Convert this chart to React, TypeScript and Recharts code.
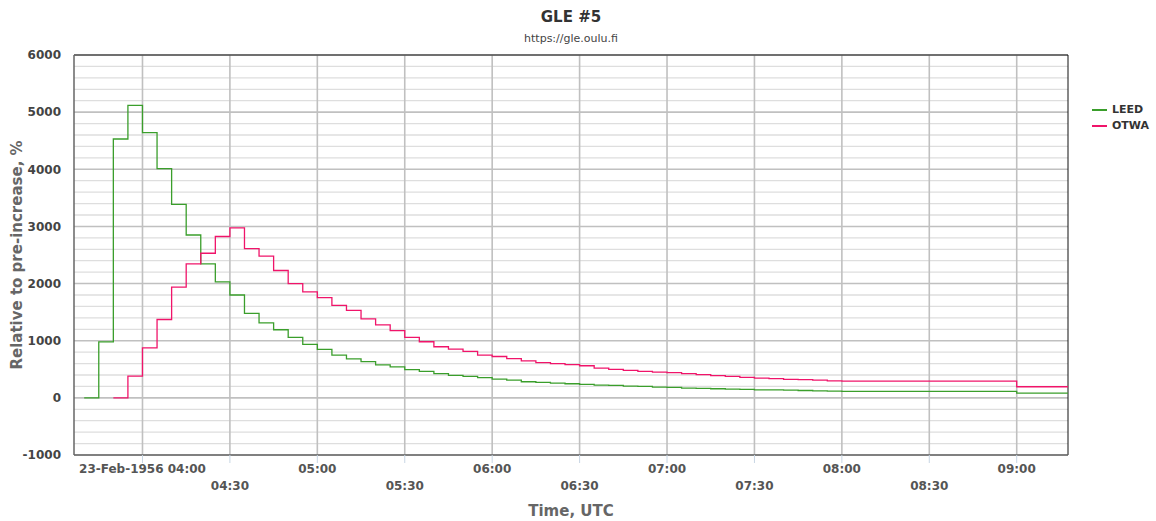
import React from 'react';
import { LineChart, Line, XAxis, YAxis, CartesianGrid, ReferenceLine } from 'recharts';

// 5-minute samples until 08:00, hourly after that
const times = [
  '03:40', '03:45', '03:50', '03:55',
  '04:00', '04:05', '04:10', '04:15', '04:20', '04:25', '04:30', '04:35', '04:40', '04:45', '04:50', '04:55',
  '05:00', '05:05', '05:10', '05:15', '05:20', '05:25', '05:30', '05:35', '05:40', '05:45', '05:50', '05:55',
  '06:00', '06:05', '06:10', '06:15', '06:20', '06:25', '06:30', '06:35', '06:40', '06:45', '06:50', '06:55',
  '07:00', '07:05', '07:10', '07:15', '07:20', '07:25', '07:30', '07:35', '07:40', '07:45', '07:50', '07:55',
  '08:00', '09:00', '10:00',
];

const leedValues = [
  0, 980, 4530, 5120,
  4640, 4010, 3385, 2850, 2345, 2030, 1800, 1478, 1312, 1192, 1058, 935,
  847, 747, 682, 635, 576, 541, 494, 465, 424, 394, 376, 353,
  329, 309, 282, 271, 259, 247, 235, 224, 218, 206, 200, 188,
  182, 171, 165, 159, 153, 147, 141, 138, 135, 129, 122, 118,
  115, 82, 82,
];

const otwaValues = [
  null, null, 0, 381,
  873, 1371, 1939, 2343, 2531, 2824, 2976, 2612, 2482, 2229, 2000, 1853,
  1753, 1618, 1532, 1382, 1276, 1176, 1059, 982, 894, 853, 812, 747,
  724, 688, 647, 618, 600, 582, 562, 521, 500, 482, 465, 450,
  441, 424, 406, 388, 376, 359, 347, 335, 324, 318, 310, 298,
  294, 194, 194,
];

const xTickTimes = ['04:00', '04:30', '05:00', '05:30', '06:00', '06:30', '07:00', '07:30', '08:00', '08:30', '09:00'];
const xTickLabels = ['23-Feb-1956 04:00', '04:30', '05:00', '05:30', '06:00', '06:30', '07:00', '07:30', '08:00', '08:30', '09:00'];
const yMajorTicks = [-1000, 0, 1000, 2000, 3000, 4000, 5000, 6000];
const yMinorTicks = [-800, -600, -400, -200, 200, 400, 600, 800, 1200, 1400, 1600, 1800, 2200, 2400, 2600, 2800,
  3200, 3400, 3600, 3800, 4200, 4400, 4600, 4800, 5200, 5400, 5600, 5800];

const toMin = (s: string) => {
  const [h, m] = s.split(':').map(Number);
  return h * 60 + m;
};

const data = times.map((t, i) => ({ t: toMin(t), leed: leedValues[i], otwa: otwaValues[i] }));
const xTicks = xTickTimes.map(toMin);
const xDomain = [216.5, 557.6];

const font = '"DejaVu Sans", Verdana, sans-serif';
const LEED_COLOR = '#3a9e2b';
const OTWA_COLOR = '#f0146a';

const XTick = (props: any) => {
  const { x, y, payload } = props;
  const i = xTicks.indexOf(payload.value);
  const row = i % 2;
  return (
    <text
      x={x}
      y={y + 4 + row * 17}
      textAnchor="middle"
      dominantBaseline="central"
      fontFamily={font}
      fontWeight="bold"
      fontSize={12}
      fill="#555"
    >
      {xTickLabels[i]}
    </text>
  );
};

export default function App() {
  return (
    <div style={{ position: 'absolute', left: 0, top: 0, width: 1156, height: 521, background: '#fff', fontFamily: font }}>
      <div style={{ position: 'absolute', left: 74, width: 994, top: 8, textAlign: 'center', fontSize: 15, fontWeight: 'bold', color: '#333', lineHeight: '18px' }}>
        GLE #5
      </div>
      <div style={{ position: 'absolute', left: 74, width: 994, top: 32, textAlign: 'center', fontSize: 11, color: '#444', lineHeight: '14px' }}>
        https://gle.oulu.fi
      </div>
      <div style={{ position: 'absolute', left: 1092, top: 102, fontSize: 11, fontWeight: 'bold', color: '#333', lineHeight: '16px' }}>
        {[
          { name: 'LEED', color: LEED_COLOR },
          { name: 'OTWA', color: OTWA_COLOR },
        ].map((s) => (
          <div key={s.name} style={{ display: 'flex', alignItems: 'center', height: 16 }}>
            <span style={{ display: 'inline-block', width: 15, height: 1.5, background: s.color, marginRight: 5 }} />
            {s.name}
          </div>
        ))}
      </div>
      <LineChart width={1156} height={521} data={data} margin={{ top: 55, right: 88, bottom: 0, left: 0 }}>
        <CartesianGrid horizontalValues={yMinorTicks} vertical={false} stroke="#dedede" strokeWidth={1.3} />
        <CartesianGrid horizontalValues={yMajorTicks} verticalValues={xTicks} stroke="#c0c0c0" strokeWidth={1.6} />
        <XAxis
          type="number"
          dataKey="t"
          domain={xDomain}
          allowDataOverflow
          ticks={xTicks}
          interval={0}
          height={66}
          tick={<XTick />}
          tickSize={8}
          tickLine={{ stroke: '#c8d6e4' }}
          axisLine={{ stroke: '#666', strokeWidth: 1.5 }}
          label={{
            value: 'Time, UTC',
            position: 'insideBottom',
            offset: 5,
            style: { fontFamily: font, fontWeight: 'bold', fontSize: 15, fill: '#666' },
          }}
        />
        <YAxis
          type="number"
          domain={[-1000, 6000]}
          ticks={yMajorTicks}
          interval={0}
          width={74}
          tickSize={0}
          tickMargin={13}
          tickLine={false}
          tick={{ fontFamily: font, fontWeight: 'bold', fontSize: 12, fill: '#444' }}
          axisLine={{ stroke: '#666', strokeWidth: 1.5 }}
          label={{
            value: 'Relative to pre-increase, %',
            angle: -90,
            position: 'insideLeft',
            offset: 17,
            style: { textAnchor: 'middle', fontFamily: font, fontWeight: 'bold', fontSize: 15, fill: '#666' },
          }}
        />
        <ReferenceLine y={6000} stroke="#111" strokeWidth={1} />
        <ReferenceLine x={xDomain[1]} stroke="#111" strokeWidth={1} />
        <Line type="stepAfter" dataKey="leed" name="LEED" stroke={LEED_COLOR} strokeWidth={1.3} dot={false} isAnimationActive={false} />
        <Line type="stepAfter" dataKey="otwa" name="OTWA" stroke={OTWA_COLOR} strokeWidth={1.3} dot={false} isAnimationActive={false} />
      </LineChart>
    </div>
  );
}
